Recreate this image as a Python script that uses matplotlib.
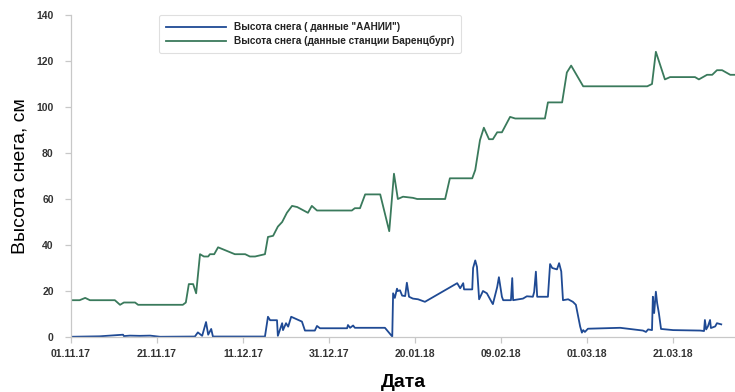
import matplotlib
matplotlib.use("Agg")
import matplotlib.pyplot as plt

# Дні від 01.11.17 та висота снігу (см)
green_days = [0, 2, 3.3, 4.4, 10.2, 11.4, 12.3, 14.9, 15.6, 26, 26.7, 27.4, 28.4, 29.1, 30,
              30.9, 31.9, 32.3, 33.3, 34.2, 38.1, 40.5, 41.6, 42.8, 45.1, 45.8, 47, 48.1,
              49.1, 50.2, 51.4, 52.6, 55.1, 56, 57.2, 65.3, 66, 67.2, 68.4, 71.9, 74, 75.1,
              76, 77.2, 79.5, 80.5, 87, 88.1, 93.3, 94, 95.1, 96, 97.2, 98.1, 99.1, 100.2,
              102.1, 103.3, 110.2, 110.9, 114.2, 115.3, 116.3, 119.1, 134, 135.1, 136,
              138.1, 139.3, 145.1, 146, 147.9, 149.1, 150.2, 151.4, 153.3, 154.4]
green_vals = [16, 16, 17, 16, 16, 14, 15, 15, 14, 14, 15, 23, 23, 19, 36,
              35, 35, 36, 36, 39, 36, 36, 35, 35, 36, 43.5, 44, 48,
              50, 54, 57, 56.5, 54, 57, 55, 55, 56, 56, 62, 62, 46, 71,
              60, 61, 60.5, 60, 60, 69, 69, 72.6, 85.6, 91, 86, 86, 89, 89,
              95.7, 95, 95, 102, 102, 115, 118, 109, 109, 110, 124,
              112, 113, 113, 112, 114, 114, 116, 116, 114, 114]

blue_days = [0, 6.7, 12.1, 12.3, 13.7, 16, 18.4, 20.7, 28.8, 29.5, 30.5, 31.4, 31.9, 32.6, 33,
             45.1, 45.8, 46.3, 47.9, 48.1, 49.1, 49.3, 50, 50.5, 51.2, 53.7, 54.4, 56.7,
             57.2, 57.9, 64.2, 64.4, 64.9, 65.6, 66, 73, 74.7, 74.9, 75.3, 75.8, 76, 76.5,
             77, 77.7, 78.1, 78.6, 79.5, 80.7, 82.3, 89.8, 90.5, 91.2, 91.4, 93.3, 93.5,
             94, 94.4, 94.9, 95.8, 96.7, 97.9, 98.1, 99.1, 99.5, 100.2, 100.5, 102.3,
             102.6, 102.8, 105.1, 106, 107.4, 107.7, 108.1, 108.4, 110.9, 111.4, 111.9,
             113, 113.5, 114, 114.4, 115.6, 116.7, 117.4, 118.4, 118.8, 119.1, 119.5,
             120.2, 127.7, 133, 133.7, 134.2, 135.1, 135.3, 135.6, 136, 136.3, 136.7,
             137.2, 140, 146.3, 147.2, 147.4, 147.7, 148.1, 148.6, 148.8, 149.8, 150.2,
             151.2]
blue_vals = [0.1, 0.3, 1, 0.4, 0.6, 0.5, 0.6, 0.1, 0.2, 2, 0.5, 6.5, 1, 3.5, 0.2,
             0.2, 8.8, 7.3, 7.3, 0.5, 6, 3, 6, 4.5, 8.8, 6.7, 2.8, 2.8,
             4.8, 3.8, 3.8, 5.2, 4, 5, 4, 4, 0.2, 19, 17, 21, 20, 20.3,
             18, 17.8, 23.6, 17.5, 16.7, 16.4, 15.3, 23.4, 21.2, 23.4, 20.7, 20.7, 30,
             33.3, 30.5, 16.4, 20, 19, 14.9, 14.3, 21.7, 26, 17.5, 16, 16,
             25.6, 16, 16.7, 17.7, 17.5, 19.6, 28.4, 17.5, 17.5, 31.7, 30,
             29.4, 32.1, 28.5, 16, 16.4, 15.3, 14, 4.5, 1.9, 3, 2.2,
             3.6, 4, 2.8, 2.2, 3.3, 3, 17.5, 10.4, 19.7, 14.7, 10.4,
             3.5, 3, 2.8, 2.6, 7.4, 3.3, 4.6, 7.4, 3.9, 4.6, 6,
             5.5]

tick_days = [0, 20, 40, 60, 80, 100, 120, 140]
tick_labels = ["01.11.17", "21.11.17", "11.12.17", "31.12.17",
               "20.01.18", "09.02.18", "01.03.18", "21.03.18"]
y_ticks = [0, 20, 40, 60, 80, 100, 120, 140]

plt.rcParams["font.family"] = ["Liberation Sans", "DejaVu Sans"]

fig = plt.figure(figsize=(7.35, 3.92), dpi=100)
ax = fig.add_axes([71 / 735, 55 / 392, 1 - 71 / 735, 322 / 392])

ax.plot(blue_days, blue_vals, color="#1f4a94", lw=1.3,
        label='Высота снега ( данные "ААНИИ")')
ax.plot(green_days, green_vals, color="#3a7a5c", lw=1.3,
        label="Высота снега (данные станции Баренцбург)")

ax.set_xlim(0, 154.4)
ax.set_ylim(0, 140)
ax.set_xticks(tick_days)
ax.set_xticklabels(tick_labels)
ax.set_yticks(y_ticks)

for side in ("top", "right"):
    ax.spines[side].set_visible(False)
for side in ("left", "bottom"):
    ax.spines[side].set_color("#c8c8c8")
    ax.spines[side].set_linewidth(0.9)

ax.tick_params(axis="both", colors="#c8c8c8", labelcolor="#333333",
               labelsize=7.5, length=4.5, width=0.9)
ax.tick_params(axis="y", pad=8)
ax.tick_params(axis="x", pad=4)
for lab in ax.get_xticklabels() + ax.get_yticklabels():
    lab.set_fontweight("bold")

ax.set_ylabel("Высота снега, см", fontsize=14, labelpad=6)
ax.set_xlabel("Дата", fontsize=14, fontweight="bold", labelpad=11)

leg = fig.legend(loc="upper left", bbox_to_anchor=(154 / 735, 1 - 10 / 392),
                 fontsize=7.2, handlelength=6.0, frameon=True, fancybox=True,
                 borderpad=0.7, labelspacing=0.35)
leg.get_frame().set_edgecolor("#d8d8d8")
leg.get_frame().set_linewidth(0.8)
for t in leg.get_texts():
    t.set_fontweight("bold")
    t.set_color("#222222")

fig.savefig("out.png", dpi=100)
plt.close(fig)
